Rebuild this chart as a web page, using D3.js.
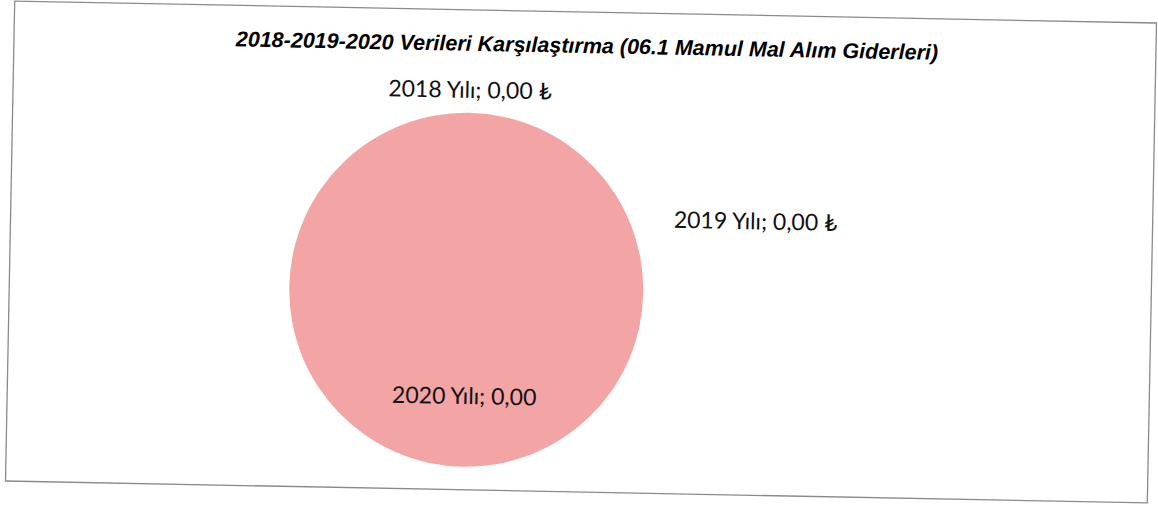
<!DOCTYPE html>
<html>
<head>
<meta charset="utf-8">
<script src="https://cdn.jsdelivr.net/npm/d3@7"></script>
<style>
  body { margin: 0; background: #fff; }
  .title { font-family: "Liberation Sans", Arial, sans-serif; font-weight: bold; font-style: italic; }
  .label { font-family: Lato, "Open Sans", sans-serif; fill: #111; }
</style>
</head>
<body>
<div id="chart"></div>
<script>
var width = 1158;
var height = 506;

// data
var years = ["2018 Yılı", "2019 Yılı", "2020 Yılı"];
var values = [0, 0, 0.001];
var suffixes = [" ₺", " ₺", ""];
var title = "2018-2019-2020 Verileri Karşılaştırma (06.1 Mamul Mal Alım Giderleri)";

var color = "#f3a4a4";
var TILT = 1.1; // scanned page is slightly rotated

var svg = d3.select("#chart").append("svg")
    .attr("width", width)
    .attr("height", height);

// frame of the chart, rotated around its centre
var frame = { x: 10, y: 12, w: 1142, h: 480 };
var cx = frame.x + frame.w / 2;
var cy = frame.y + frame.h / 2;

var g = svg.append("g")
    .attr("transform", "rotate(" + TILT + "," + cx + "," + cy + ")");

g.append("rect")
    .attr("x", frame.x)
    .attr("y", frame.y)
    .attr("width", frame.w)
    .attr("height", frame.h)
    .attr("fill", "#fff")
    .attr("stroke", "#8a8a8a")
    .attr("stroke-width", 1.3);

g.append("text")
    .attr("class", "title")
    .attr("x", cx + 2)
    .attr("y", 53)
    .attr("text-anchor", "middle")
    .style("font-size", "21.5px")
    .text(title);

// pie
var radius = 177;
var pieX = 467, pieY = 292;
var fmt = function(v) { return d3.format(".2f")(v).replace(".", ","); };

var pie = d3.pie().sort(null).value(function(d) { return d; });
var arcs = pie(values);

var arc = d3.arc().innerRadius(0).outerRadius(radius);
var outerLabel = d3.arc().innerRadius(radius + 23).outerRadius(radius + 23);
var innerLabel = d3.arc().innerRadius(radius * 0.6).outerRadius(radius * 0.6);

var pg = g.append("g").attr("transform", "translate(" + pieX + "," + pieY + ")");

pg.selectAll("path.slice")
    .data(arcs)
    .enter().append("path")
    .attr("class", "slice")
    .attr("d", arc)
    .attr("fill", color);

// label offsets (2019 label pushed aside like Excel does)
var labelPos = function(d, i) {
    if (d.endAngle - d.startAngle > 0.5) return innerLabel.centroid(d);
    if (i == 1) return [288, -74];
    return outerLabel.centroid(d);
};

pg.selectAll("text.label")
    .data(arcs)
    .enter().append("text")
    .attr("class", "label")
    .attr("transform", function(d, i) { return "translate(" + labelPos(d, i) + ")"; })
    .attr("dy", "0.35em")
    .attr("text-anchor", "middle")
    .style("font-size", "23px")
    .text(function(d, i) { return years[i] + "; " + fmt(values[i]) + suffixes[i]; });
</script>
</body>
</html>
